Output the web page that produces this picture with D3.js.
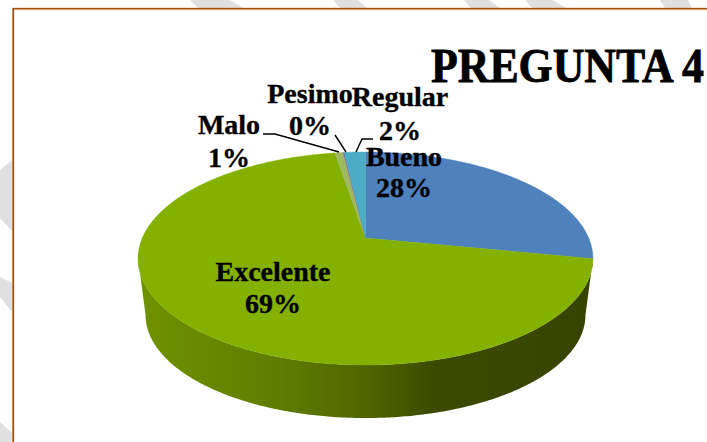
<!DOCTYPE html>
<html>
<head>
<meta charset="utf-8">
<script src="https://cdn.jsdelivr.net/npm/d3@7"></script>
<style>
html,body{margin:0;padding:0;background:#fff;overflow:hidden}
svg{display:block}
text{font-family:"Liberation Serif",serif;font-weight:700;fill:#000;stroke:#000;stroke-width:.35px}
</style>
</head>
<body>
<svg id="c" width="707" height="442"></svg>
<script>
// Data
const categories = ["Bueno", "Excelente", "Malo", "Pesimo", "Regular"];
const seriesValues = [28.1, 69.3, 0.7, 0.1, 1.8];
const chartTitle = "PREGUNTA 4";

// Colours and layout (separate from data)
const sliceColors = ["#4f81bd", "#84b000", "#a0b860", "#8064a2", "#4bacc6"];
const W = 707, H = 442;
const apex = {x: 365.5, y: 238};
const persp = {k: 0.1925, a: 102.6, b: 223.2};
const wall = {scale: 220 / 227.5, cy: 315, topCy: 258.5, ryScale: 103 / 106.5};
const labelPos = {
  Bueno:     {x: 404, y1: 166, y2: 197},
  Excelente: {x: 273, y1: 281, y2: 313},
  Malo:      {x: 229, y1: 134, y2: 167},
  Pesimo:    {x: 310, y1: 103, y2: 135},
  Regular:   {x: 400, y1: 106, y2: 140}
};
const leaderPts = {
  Malo:    [[263, 134], [275, 134], [339, 152]],
  Pesimo:  [[335, 135], [346, 152]],
  Regular: [[373, 139], [362, 139], [356, 152]]
};
const stripes = [
  [[190,0],[230,0],[243,8],[198,8]],
  [[333,0],[358,0],[367,8],[340,8]],
  [[464,0],[489,0],[500,8],[471,8]],
  [[525,0],[552,0],[566,8],[532,8]],
  [[660,0],[688,0],[692,8],[665,8]],
  [[0,170],[12,160],[12,231],[0,218]],
  [[0,277],[12,283],[12,312],[0,297]],
  [[0,422],[12,433],[12,442],[0,442]]
];

const svg = d3.select("#c");
const defs = svg.append("defs");

// Background chevrons and frame
const line = d3.line();
svg.append("g").selectAll("path").data(stripes).join("path")
  .attr("d", d => line(d) + "Z").attr("fill", "#e0e0e0");
svg.append("rect").attr("x", 13.25).attr("y", 8.75).attr("width", 900).attr("height", 900)
  .attr("fill", "#fff").attr("stroke", "#a24f0a").attr("stroke-width", 1.8);
svg.append("line").attr("x1", 14).attr("x2", W).attr("y1", 10.2).attr("y2", 10.2)
  .attr("stroke", "#f6dfc8").attr("stroke-width", 1);

// Tilted-disc projection: angle clockwise from 12 o'clock
function project(theta) {
  const u = Math.sin(theta), v = Math.cos(theta), w = 1 + persp.k * v;
  return [apex.x + persp.b * u / w, apex.y - persp.a * v / w];
}
function projectBase(theta) {
  const p = project(theta);
  return [apex.x + (p[0] - apex.x) * wall.scale, wall.cy + (p[1] - wall.topCy) * wall.ryScale];
}
function samples(a0, a1) {
  const n = Math.max(2, Math.ceil((a1 - a0) / 0.01));
  return d3.range(n + 1).map(i => a0 + (a1 - a0) * i / n);
}

const arcs = d3.pie().sort(null).value(d => d)(seriesValues);

// Side wall (only the near rim is visible)
const grad = defs.append("linearGradient").attr("id", "wallGrad")
  .attr("gradientUnits", "userSpaceOnUse").attr("x1", 138).attr("x2", 593).attr("y1", 0).attr("y2", 0);
[[0, "#6f9200"], [0.3, "#5f7e00"], [0.5, "#4f6600"], [0.65, "#3b4a00"], [1, "#374400"]]
  .forEach(s => grad.append("stop").attr("offset", s[0]).attr("stop-color", s[1]));

const rimLeft = 2 * Math.PI - Math.acos(-persp.k);
const rimRight = Math.acos(-persp.k);
arcs.forEach(a => {
  const a0 = Math.max(a.startAngle, rimRight), a1 = Math.min(a.endAngle, rimLeft);
  if (a1 <= a0) return;
  const ang = samples(a0, a1);
  const pts = ang.map(project).concat(ang.slice().reverse().map(projectBase));
  svg.append("path").attr("d", line(pts) + "Z").attr("fill", "url(#wallGrad)");
});

// Top face
svg.append("g").selectAll("path").data(arcs).join("path")
  .attr("d", a => line([[apex.x, apex.y]].concat(samples(a.startAngle, a.endAngle).map(project))) + "Z")
  .attr("fill", (a, i) => sliceColors[i])
  .attr("stroke", (a, i) => sliceColors[i]).attr("stroke-width", 0.4);

// Leader lines
svg.append("g").selectAll("path").data(Object.values(leaderPts)).join("path")
  .attr("d", d => line(d)).attr("fill", "none").attr("stroke", "#000").attr("stroke-width", 1.4);

// Labels
const total = d3.sum(seriesValues);
categories.forEach((c, i) => {
  const p = labelPos[c];
  svg.append("text").attr("x", p.x).attr("y", p.y1).attr("text-anchor", "middle")
    .attr("font-size", 28).text(c);
  svg.append("text").attr("x", p.x).attr("y", p.y2).attr("text-anchor", "middle")
    .attr("font-size", 28).text(d3.format(".0f")(seriesValues[i] / total * 100) + "%");
});

// Title
svg.append("text").attr("x", 431).attr("y", 82).attr("font-size", 48)
  .attr("textLength", 273).attr("lengthAdjust", "spacingAndGlyphs")
  .style("stroke-width", "0.8px").text(chartTitle);
</script>
</body>
</html>
